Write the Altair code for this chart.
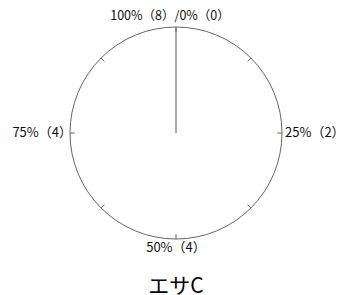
import altair as alt
import pandas as pd

# ---- data ----
total = 8
item_count = [0]
tick_fracs = [0, 0.125, 0.25, 0.375, 0.5, 0.625, 0.75, 0.875]
label_fracs = [0, 0.25, 0.5, 0.75]
label_texts = ["100%（8）/0%（0）", "25%（2）", "50%（4）", "75%（4）"]
label_sides = ["top", "right", "bottom", "left"]
chart_title = "エサC"

R = 106
FONT = "Noto Sans CJK JP"

xs = alt.Scale(domain=[-1, 1], nice=False, zero=False)
ys = alt.Scale(domain=[-1, 1], nice=False, zero=False)


def X(f):
    return alt.X(f, type="quantitative", scale=xs, axis=None)


def Y(f):
    return alt.Y(f, type="quantitative", scale=ys, axis=None)


center = pd.DataFrame({"cx": [0.0], "cy": [0.0]})
circle = alt.Chart(center).mark_point(
    shape="circle", size=(2 * R) ** 2, filled=False,
    stroke="#666666", strokeWidth=1, opacity=1
).encode(x=X("cx"), y=Y("cy"))

ticks = alt.Chart(pd.DataFrame({"f": tick_fracs})).transform_calculate(
    tx="sin(2*PI*datum.f)", ty="cos(2*PI*datum.f)",
    tx2="0.955*sin(2*PI*datum.f)", ty2="0.955*cos(2*PI*datum.f)"
).mark_rule(stroke="#666666", strokeWidth=1).encode(
    x=X("tx"), y=Y("ty"), x2="tx2:Q", y2="ty2:Q"
)

slice_line = alt.Chart(pd.DataFrame({"count": item_count})).transform_calculate(
    f=f"datum.count/{total}",
    lx="0", ly="0",
    lx2="sin(2*PI*datum.f)", ly2="cos(2*PI*datum.f)"
).mark_rule(stroke="#aaaaaa", strokeWidth=2).encode(
    x=X("lx"), y=Y("ly"), x2="lx2:Q", y2="ly2:Q"
)

lab_df = pd.DataFrame({"f": label_fracs, "text": label_texts, "side": label_sides})


def label_layer(side, size=13, **mk):
    return alt.Chart(lab_df).transform_filter(
        alt.datum.side == side
    ).transform_calculate(
        px="sin(2*PI*datum.f)", py="cos(2*PI*datum.f)"
    ).mark_text(font=FONT, fontSize=size, color="#111111", **mk).encode(
        x=X("px"), y=Y("py"), text="text:N"
    )


lab_top = label_layer("top", size=12.5, align="center", baseline="alphabetic", dy=-7, dx=-6)
lab_right = label_layer("right", align="left", baseline="middle", dx=3)
lab_bottom = label_layer("bottom", align="center", baseline="top", dy=3)
lab_left = label_layer("left", align="right", baseline="middle", dx=2)

chart = alt.layer(
    circle, slice_line, ticks, lab_top, lab_right, lab_bottom, lab_left
).properties(
    width=2 * R, height=2 * R,
    autosize="none",
    padding={"left": 62, "top": 19, "right": 62, "bottom": 56},
    title=alt.TitleParams(
        chart_title, orient="bottom", anchor="middle", font=FONT,
        fontSize=21, fontWeight="normal", color="#000000", offset=21
    ),
).configure_view(stroke=None)

chart.save("out.html", embed_options={"renderer": "svg", "actions": False})
